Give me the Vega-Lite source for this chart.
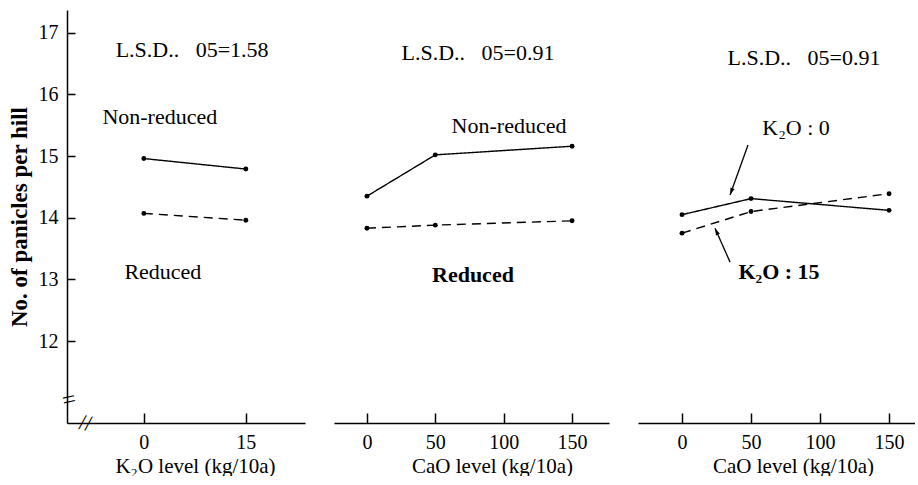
{
  "$schema": "https://vega.github.io/schema/vega-lite/v6.json",
  "background": "white",
  "padding": {"left": 8, "top": 10, "right": 0, "bottom": 0},
  "spacing": 29,
  "config": {
    "view": {"stroke": null},
    "font": "Liberation Serif",
    "axis": {
      "grid": false,
      "domainColor": "black",
      "domainWidth": 1.5,
      "tickColor": "black",
      "tickWidth": 1.5,
      "tickSize": -10,
      "labelColor": "black",
      "titleColor": "black",
      "labelFont": "Liberation Serif",
      "titleFont": "Liberation Serif",
      "labelFontSize": 20,
      "titleFontSize": 21,
      "titleFontWeight": "normal",
      "labelPadding": 19,
      "titlePadding": 3
    },
    "text": {"font": "Liberation Serif", "fontSize": 22, "color": "black"}
  },
  "datasets": {
    "k2o": [
      {"series": "Non-reduced", "level": 0, "panicles": 14.96},
      {"series": "Non-reduced", "level": 15, "panicles": 14.79},
      {"series": "Reduced", "level": 0, "panicles": 14.07},
      {"series": "Reduced", "level": 15, "panicles": 13.96}
    ],
    "cao": [
      {"series": "Non-reduced", "level": 0, "panicles": 14.35},
      {"series": "Non-reduced", "level": 50, "panicles": 15.02},
      {"series": "Non-reduced", "level": 150, "panicles": 15.16},
      {"series": "Reduced", "level": 0, "panicles": 13.83},
      {"series": "Reduced", "level": 50, "panicles": 13.88},
      {"series": "Reduced", "level": 150, "panicles": 13.95}
    ],
    "cao_by_k2o": [
      {"series": "K2O 0", "level": 0, "panicles": 14.05},
      {"series": "K2O 0", "level": 50, "panicles": 14.31},
      {"series": "K2O 0", "level": 150, "panicles": 14.12},
      {"series": "K2O 15", "level": 0, "panicles": 13.75},
      {"series": "K2O 15", "level": 50, "panicles": 14.10},
      {"series": "K2O 15", "level": 150, "panicles": 14.39}
    ],
    "notes": [
      {"panel": 1, "level": 7.1, "panicles": 16.72, "text": "L.S.D..\u00a0\u00a0 05=1.58", "weight": "normal"},
      {"panel": 1, "level": 2.35, "panicles": 15.63, "text": "Non-reduced", "weight": "normal"},
      {"panel": 1, "level": 2.8, "panicles": 13.12, "text": "Reduced", "weight": "normal"},
      {"panel": 2, "level": 81.2, "panicles": 16.67, "text": "L.S.D..\u00a0\u00a0 05=0.91", "weight": "normal"},
      {"panel": 2, "level": 103.9, "panicles": 15.49, "text": "Non-reduced", "weight": "normal"},
      {"panel": 2, "level": 77.5, "panicles": 13.07, "text": "Reduced", "weight": "bold"},
      {"panel": 3, "level": 88.4, "panicles": 16.59, "text": "L.S.D..\u00a0\u00a0 05=0.91", "weight": "normal"},
      {"panel": 3, "level": 82.6, "panicles": 15.45, "text": "K₂O : 0", "weight": "normal"},
      {"panel": 3, "level": 70.3, "panicles": 13.12, "text": "K₂O : 15", "weight": "bold"}
    ],
    "arrows": [
      {"arrow": "K2O 0", "level": 34.8, "panicles": 14.37, "level_from": 47.8, "panicles_from": 15.18},
      {"arrow": "K2O 15", "level": 23.9, "panicles": 13.83, "level_from": 34.8, "panicles_from": 13.28}
    ],
    "breaks": [
      {"axis": "y", "level": -11.0, "panicles": 11.04},
      {"axis": "x", "level": -8.6, "panicles": 10.67}
    ]
  },
  "hconcat": [
    {
      "width": 238,
      "height": 413,
      "encoding": {
        "x": {"field": "level", "type": "quantitative",
              "scale": {"domain": [-11.3, 23.7], "nice": false, "zero": false},
              "axis": {"values": [0, 15], "title": "K₂O level (kg/10a)", "titleX": 128}},
        "y": {"field": "panicles", "type": "quantitative",
              "scale": {"domain": [10.67, 17.37], "nice": false, "zero": false},
              "axis": {"values": [12, 13, 14, 15, 16, 17], "title": "No. of panicles per hill",
                       "titleFontWeight": "bold", "titleFontSize": 23, "tickSize": -8, "labelPadding": 17, "titlePadding": 7}}
      },
      "layer": [
        {"data": {"name": "k2o"},
         "mark": {"type": "line", "color": "black", "strokeWidth": 1.4},
         "encoding": {"strokeDash": {"field": "series", "type": "nominal",
           "scale": {"domain": ["Non-reduced", "Reduced"], "range": [[1, 0], [9, 6]]}, "legend": null}}},
        {"data": {"name": "k2o"},
         "mark": {"type": "point", "filled": true, "color": "black", "size": 24, "opacity": 1}},
        {"data": {"name": "notes"}, "transform": [{"filter": "datum.panel === 1 && datum.weight === 'normal'"}],
         "mark": {"type": "text", "align": "center", "baseline": "middle"},
         "encoding": {"text": {"field": "text"}}},
        {"data": {"name": "breaks"}, "transform": [{"filter": "datum.axis === 'y'"}],
         "mark": {"type": "text", "text": "=", "fontSize": 24, "angle": -12, "align": "center", "baseline": "middle"}},
        {"data": {"name": "breaks"}, "transform": [{"filter": "datum.axis === 'x'"}],
         "mark": {"type": "text", "text": "//", "fontSize": 22, "angle": 10, "align": "center", "baseline": "middle"}}
      ]
    },
    {
      "width": 275,
      "height": 413,
      "encoding": {
        "x": {"field": "level", "type": "quantitative",
              "scale": {"domain": [-24.1, 177], "nice": false, "zero": false},
              "axis": {"values": [0, 50, 100, 150], "title": "CaO level (kg/10a)", "titleX": 158}},
        "y": {"field": "panicles", "type": "quantitative",
              "scale": {"domain": [10.67, 17.37], "nice": false, "zero": false},
              "axis": null}
      },
      "layer": [
        {"data": {"name": "cao"},
         "mark": {"type": "line", "color": "black", "strokeWidth": 1.4},
         "encoding": {"strokeDash": {"field": "series", "type": "nominal",
           "scale": {"domain": ["Non-reduced", "Reduced"], "range": [[1, 0], [9, 6]]}, "legend": null}}},
        {"data": {"name": "cao"},
         "mark": {"type": "point", "filled": true, "color": "black", "size": 24, "opacity": 1}},
        {"data": {"name": "notes"}, "transform": [{"filter": "datum.panel === 2 && datum.weight === 'normal'"}],
         "mark": {"type": "text", "align": "center", "baseline": "middle"},
         "encoding": {"text": {"field": "text"}}},
        {"data": {"name": "notes"}, "transform": [{"filter": "datum.panel === 2 && datum.weight === 'bold'"}],
         "mark": {"type": "text", "align": "center", "baseline": "middle", "fontWeight": "bold"},
         "encoding": {"text": {"field": "text"}}}
      ]
    },
    {
      "width": 277,
      "height": 413,
      "encoding": {
        "x": {"field": "level", "type": "quantitative",
              "scale": {"domain": [-31.9, 168.8], "nice": false, "zero": false},
              "axis": {"values": [0, 50, 100, 150], "title": "CaO level (kg/10a)", "titleX": 155}},
        "y": {"field": "panicles", "type": "quantitative",
              "scale": {"domain": [10.67, 17.37], "nice": false, "zero": false},
              "axis": null}
      },
      "layer": [
        {"data": {"name": "cao_by_k2o"},
         "mark": {"type": "line", "color": "black", "strokeWidth": 1.4},
         "encoding": {"strokeDash": {"field": "series", "type": "nominal",
           "scale": {"domain": ["K2O 0", "K2O 15"], "range": [[1, 0], [9, 6]]}, "legend": null}}},
        {"data": {"name": "cao_by_k2o"},
         "mark": {"type": "point", "filled": true, "color": "black", "size": 24, "opacity": 1}},
        {"data": {"name": "arrows"},
         "mark": {"type": "rule", "color": "black", "strokeWidth": 1.3},
         "encoding": {"x2": {"field": "level_from"}, "y2": {"field": "panicles_from"}}},
        {"data": {"name": "arrows"}, "transform": [{"filter": "datum.arrow === 'K2O 0'"}],
         "mark": {"type": "point", "shape": "M0,0L0.45,1.5L-0.45,1.5Z", "filled": true, "color": "black", "size": 90, "angle": 200, "opacity": 1}},
        {"data": {"name": "arrows"}, "transform": [{"filter": "datum.arrow === 'K2O 15'"}],
         "mark": {"type": "point", "shape": "M0,0L0.45,1.5L-0.45,1.5Z", "filled": true, "color": "black", "size": 90, "angle": 336, "opacity": 1}},
        {"data": {"name": "notes"}, "transform": [{"filter": "datum.panel === 3 && datum.weight === 'normal'"}],
         "mark": {"type": "text", "align": "center", "baseline": "middle"},
         "encoding": {"text": {"field": "text"}}},
        {"data": {"name": "notes"}, "transform": [{"filter": "datum.panel === 3 && datum.weight === 'bold'"}],
         "mark": {"type": "text", "align": "center", "baseline": "middle", "fontWeight": "bold"},
         "encoding": {"text": {"field": "text"}}}
      ]
    }
  ]
}
